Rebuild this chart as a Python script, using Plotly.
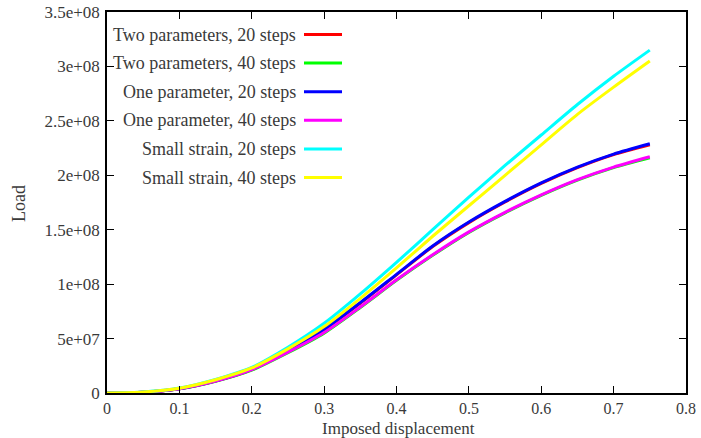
import plotly.graph_objects as go

# ---- data ----
disp = [0.0, 0.05, 0.10, 0.15, 0.20, 0.25, 0.30, 0.35, 0.40, 0.45, 0.50, 0.55, 0.60, 0.65, 0.70, 0.75]

two_param_20 = [0.0, 0.7e6, 3.9e6, 11.0e6, 21.5e6, 38.5e6, 58e6, 82.5e6, 108.5e6, 134.5e6, 156.5e6, 175.5e6, 192.5e6, 207e6, 219e6, 228e6]
two_param_40 = [0.0, 0.7e6, 3.8e6, 10.8e6, 21.0e6, 37.0e6, 55e6, 78.5e6, 103.5e6, 126.5e6, 147.5e6, 165.5e6, 181.5e6, 195.5e6, 207e6, 216e6]
one_param_20 = [0.0, 0.8e6, 4.0e6, 11.2e6, 22.0e6, 39.0e6, 58.5e6, 83e6, 109e6, 135e6, 157e6, 176e6, 193e6, 207.5e6, 219.5e6, 229e6]
one_param_40 = [0.0, 0.8e6, 3.9e6, 11.0e6, 21.5e6, 37.5e6, 55.5e6, 79e6, 104e6, 127e6, 148e6, 166e6, 182e6, 196e6, 207.5e6, 217e6]
small_20 = [0.0, 0.9e6, 4.5e6, 12.5e6, 23.5e6, 42e6, 64e6, 91e6, 120e6, 150e6, 180e6, 209e6, 237e6, 265e6, 291e6, 315e6]
small_40 = [0.0, 0.9e6, 4.4e6, 12.2e6, 23.0e6, 40.5e6, 61e6, 87e6, 115e6, 144e6, 172e6, 200e6, 228e6, 256e6, 281e6, 305e6]

series_names = [
    "Two parameters, 20 steps",
    "Two parameters, 40 steps",
    "One parameter, 20 steps",
    "One parameter, 40 steps",
    "Small strain, 20 steps",
    "Small strain, 40 steps",
]
series_values = [two_param_20, two_param_40, one_param_20, one_param_40, small_20, small_40]
series_colors = ["#ff0000", "#00ff00", "#0000ff", "#ff00ff", "#00ffff", "#ffff00"]

x_tickvals = [0, 0.1, 0.2, 0.3, 0.4, 0.5, 0.6, 0.7, 0.8]
x_ticktext = ["0", "0.1", "0.2", "0.3", "0.4", "0.5", "0.6", "0.7", "0.8"]
y_tickvals = [0, 5e7, 1e8, 1.5e8, 2e8, 2.5e8, 3e8, 3.5e8]
y_ticktext = ["0", "5e+07", "1e+08", "1.5e+08", "2e+08", "2.5e+08", "3e+08", "3.5e+08"]

FONT = "Liberation Serif, Times New Roman, DejaVu Serif, serif"
TXT = "#3a3a3a"

W, H = 701, 438
L, R, T, B = 107, 15, 12, 45
PW, PH = W - L - R, H - T - B

def px_x(p):
    return (p - L) / PW

def px_y(p):
    return (H - B - p) / PH

fig = go.Figure()
for name, vals, col in zip(series_names, series_values, series_colors):
    fig.add_trace(go.Scatter(x=disp, y=vals, mode="lines", name=name,
                             line=dict(color=col, width=3, shape="spline", smoothing=0.7),
                             showlegend=False))

# gnuplot-style key: right-aligned text with line sample to its right
row0 = 34.5
step = 28.6
for i, (name, col) in enumerate(zip(series_names, series_colors)):
    yp = px_y(row0 + i * step)
    fig.add_annotation(x=px_x(298), y=yp, xref="paper", yref="paper", text=name,
                       showarrow=False, xanchor="right", yanchor="middle",
                       font=dict(family=FONT, size=18, color=TXT))
    fig.add_shape(type="line", xref="paper", yref="paper",
                  x0=px_x(304), x1=px_x(342), y0=yp, y1=yp,
                  line=dict(color=col, width=3))

# axis titles
fig.add_annotation(x=px_x(398), y=px_y(428), xref="paper", yref="paper",
                   text="Imposed displacement", showarrow=False,
                   xanchor="center", yanchor="middle", borderpad=0,
                   font=dict(family=FONT, size=17, color=TXT))
fig.add_annotation(x=px_x(19), y=px_y(204), xref="paper", yref="paper",
                   text="Load", showarrow=False, textangle=-90,
                   xanchor="center", yanchor="middle",
                   font=dict(family=FONT, size=18, color=TXT))

fig.update_layout(
    width=W, height=H,
    margin=dict(l=L, r=R, t=T, b=B),
    plot_bgcolor="white", paper_bgcolor="white",
    font=dict(family=FONT, size=16, color=TXT),
    showlegend=False,
)
fig.update_xaxes(range=[0, 0.8], tickvals=x_tickvals, ticktext=x_ticktext, automargin=False,
                 showgrid=False, zeroline=False, showline=True, linecolor="black", linewidth=1.5,
                 mirror="ticks", ticks="inside", ticklen=7, tickwidth=1.2, tickcolor="black",
                 tickfont=dict(family=FONT, size=16, color=TXT))
fig.update_yaxes(range=[0, 3.5e8], tickvals=y_tickvals, ticktext=y_ticktext, automargin=False,
                 showgrid=False, zeroline=False, showline=True, linecolor="black", linewidth=1.5,
                 mirror="ticks", ticks="inside", ticklen=7, tickwidth=1.2, tickcolor="black",
                 ticklabelstandoff=2,
                 tickfont=dict(family=FONT, size=17, color=TXT))

fig.write_html("out.html")
